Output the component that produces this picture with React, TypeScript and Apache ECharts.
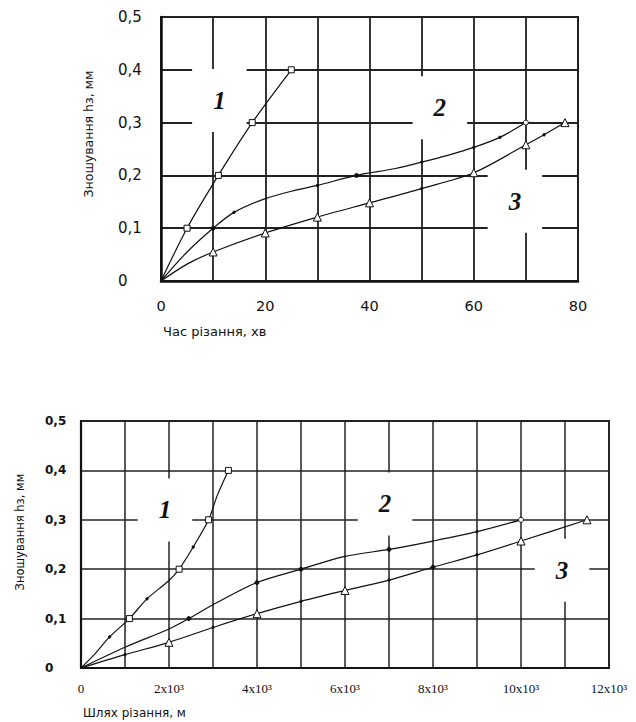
import React, { useEffect, useRef } from "react";
import * as echarts from "echarts";

// ---- Top chart: wear vs cutting time (min) ----
const topX1 = [0, 5, 11, 17.5, 25];
const topY1 = [0, 0.1, 0.2, 0.3, 0.4];
const topM1 = ["none", "sq", "sq", "sq", "sq"];

const topX2 = [0, 5, 10, 14, 20, 25, 30, 37.5, 45, 50, 55, 60, 65, 70];
const topY2 = [0, 0.055, 0.1, 0.13, 0.156, 0.17, 0.181, 0.2, 0.213, 0.225, 0.238, 0.253, 0.272, 0.3];
const topM2 = ["none", "none", "dot", "tiny", "none", "none", "tiny", "dot", "none", "tiny", "none", "tiny", "tiny", "ring"];

const topX3 = [0, 5, 10, 20, 30, 40, 50, 60, 70, 73.5, 77.5];
const topY3 = [0, 0.032, 0.055, 0.091, 0.121, 0.148, 0.175, 0.205, 0.258, 0.277, 0.3];
const topM3 = ["none", "none", "tri", "tri", "tri", "tri", "tiny", "tri", "tri", "tiny", "tri"];

const topLabelX = [11.2, 53.5, 67.9];
const topLabelY = [0.342, 0.328, 0.151];
const curveNames = ["1", "2", "3"];

// ---- Bottom chart: wear vs cutting path (m) ----
const botX1 = [0, 300, 650, 1100, 1500, 2000, 2230, 2550, 2900, 3100, 3350];
const botY1 = [0, 0.027, 0.063, 0.1, 0.14, 0.177, 0.2, 0.245, 0.3, 0.35, 0.4];
const botM1 = ["none", "none", "tiny", "sq", "tiny", "none", "sq", "tiny", "sq", "none", "sq"];

const botX2 = [0, 1000, 2000, 2450, 3000, 4000, 5000, 6000, 7000, 8000, 9000, 10000];
const botY2 = [0, 0.042, 0.079, 0.1, 0.128, 0.173, 0.2, 0.226, 0.24, 0.257, 0.276, 0.3];
const botM2 = ["none", "none", "none", "dot", "none", "dot", "dot", "none", "dot", "none", "tiny", "ring"];

const botX3 = [0, 1000, 2000, 3000, 4000, 5000, 6000, 7000, 8000, 9000, 10000, 11500];
const botY3 = [0, 0.027, 0.052, 0.082, 0.11, 0.135, 0.157, 0.178, 0.204, 0.229, 0.257, 0.3];
const botM3 = ["none", "tiny", "tri", "tiny", "tri", "tiny", "tri", "tiny", "dot", "tiny", "tri", "tri"];

const botLabelX = [1909, 6909, 10932];
const botLabelY = [0.32, 0.332, 0.198];

const INK = "#111";

const SYM: Record<string, any> = {
  sq: { symbol: "rect", size: 6, fill: "#fff" },
  tri: { symbol: "triangle", size: 8, fill: "#fff" },
  dot: { symbol: "circle", size: 4, fill: INK },
  ring: { symbol: "circle", size: 5, fill: "#fff" },
  tiny: { symbol: "circle", size: 2.5, fill: INK },
  none: { symbol: "none", size: 0, fill: "#fff" },
};

function buildData(xs: number[], ys: number[], ms: string[]) {
  return xs.map((x, i) => {
    const s = SYM[ms[i]];
    return {
      value: [x, ys[i]],
      symbol: s.symbol,
      symbolSize: s.size,
      itemStyle: { color: s.fill, borderColor: INK, borderWidth: 1 },
    };
  });
}

function lineSeries(idx: number, xs: number[], ys: number[], ms: string[]) {
  return {
    type: "line",
    xAxisIndex: idx,
    yAxisIndex: idx,
    smooth: 0.3,
    z: 3,
    showSymbol: true,
    lineStyle: { color: INK, width: 1.2 },
    data: buildData(xs, ys, ms),
  };
}

function labelSeries(idx: number, xs: number[], ys: number[]) {
  return {
    type: "scatter",
    xAxisIndex: idx,
    yAxisIndex: idx,
    z: 1,
    symbolSize: 1,
    itemStyle: { color: "rgba(255,255,255,0)", opacity: 1 },
    silent: true,
    label: {
      show: true,
      position: "inside",
      formatter: (p: any) => curveNames[p.dataIndex],
      fontFamily: "Liberation Serif",
      fontStyle: "italic",
      fontWeight: "bold",
      fontSize: 25,
      color: INK,
      opacity: 1,
      backgroundColor: "#ffffff",
      padding: [19, 21],
      lineHeight: 25,
    },
    data: xs.map((x, i) => [x, ys[i]]),
  };
}

const yFmt = (v: number) => (v === 0 ? "0" : v.toFixed(1).replace(".", ","));

export default function App() {
  const ref = useRef<HTMLDivElement>(null);
  useEffect(() => {
    if (!ref.current) return;
    const chart = echarts.init(ref.current, undefined, { renderer: "svg" });
    const splitStyle = { show: true, lineStyle: { color: "#222", width: 1.8 } };
    chart.setOption({
      animation: false,
      backgroundColor: "#fff",
      grid: [
        { left: 161, top: 17, width: 417, height: 264, show: true, borderColor: "#222", borderWidth: 2, backgroundColor: "transparent" },
        { left: 81, top: 421, width: 528, height: 247, show: true, borderColor: "#222", borderWidth: 1.8, backgroundColor: "transparent" },
      ],
      xAxis: [
        {
          type: "value", gridIndex: 0, min: 0, max: 80, interval: 10,
          axisLine: { show: true, lineStyle: { color: "#111", width: 2.5 } },
          axisTick: { show: false },
          splitLine: splitStyle,
          axisLabel: {
            margin: 17, color: "#111", fontFamily: "DejaVu Sans", fontSize: 14.5,
            formatter: (v: number) => (v % 20 === 0 ? String(v) : ""),
          },
        },
        {
          type: "value", gridIndex: 1, min: 0, max: 12000, interval: 1000,
          axisLine: { show: true, lineStyle: { color: "#111", width: 2.2 } },
          axisTick: { show: false },
          splitLine: { show: true, lineStyle: { color: "#222", width: 1.5 } },
          axisLabel: {
            margin: 14, color: "#111", fontFamily: "Liberation Serif", fontSize: 13,
            formatter: (v: number) => (v === 0 ? "0" : v % 2000 === 0 ? `${v / 1000}x10³` : ""),
          },
        },
      ],
      yAxis: [
        {
          type: "value", gridIndex: 0, min: 0, max: 0.5, interval: 0.1,
          axisLine: { show: true, lineStyle: { color: "#111", width: 2.5 } },
          axisTick: { show: false },
          splitLine: splitStyle,
          axisLabel: { align: "left", margin: 43, color: "#111", fontFamily: "DejaVu Sans", fontSize: 15, formatter: yFmt },
        },
        {
          type: "value", gridIndex: 1, min: 0, max: 0.5, interval: 0.1,
          axisLine: { show: true, lineStyle: { color: "#111", width: 2.2 } },
          axisTick: { show: false },
          splitLine: { show: true, lineStyle: { color: "#222", width: 1.5 } },
          axisLabel: { align: "left", margin: 36, color: "#111", fontFamily: "DejaVu Sans", fontWeight: "bold", fontSize: 12, formatter: yFmt },
        },
      ],
      graphic: [
        { type: "text", x: 88, y: 134, rotation: Math.PI / 2, style: { text: "Зношування hз, мм", align: "center", verticalAlign: "middle", font: "12.5px 'DejaVu Sans'", fill: "#111" } },
        { type: "text", x: 163, y: 331, style: { text: "Час різання, хв", align: "left", verticalAlign: "middle", font: "13px 'DejaVu Sans'", fill: "#111" } },
        { type: "text", x: 20, y: 532, rotation: Math.PI / 2, style: { text: "Зношування hз, мм", align: "center", verticalAlign: "middle", font: "11.5px 'DejaVu Sans'", fill: "#111" } },
        { type: "text", x: 83, y: 713, style: { text: "Шлях різання, м", align: "left", verticalAlign: "middle", font: "12px 'DejaVu Sans'", fill: "#111" } },
      ],
      series: [
        labelSeries(0, topLabelX, topLabelY),
        lineSeries(0, topX1, topY1, topM1),
        lineSeries(0, topX2, topY2, topM2),
        lineSeries(0, topX3, topY3, topM3),
        labelSeries(1, botLabelX, botLabelY),
        lineSeries(1, botX1, botY1, botM1),
        lineSeries(1, botX2, botY2, botM2),
        lineSeries(1, botX3, botY3, botM3),
      ],
    });
    return () => chart.dispose();
  }, []);
  return <div ref={ref} style={{ position: "fixed", left: 0, top: 0, width: 636, height: 722, background: "#fff" }} />;
}
